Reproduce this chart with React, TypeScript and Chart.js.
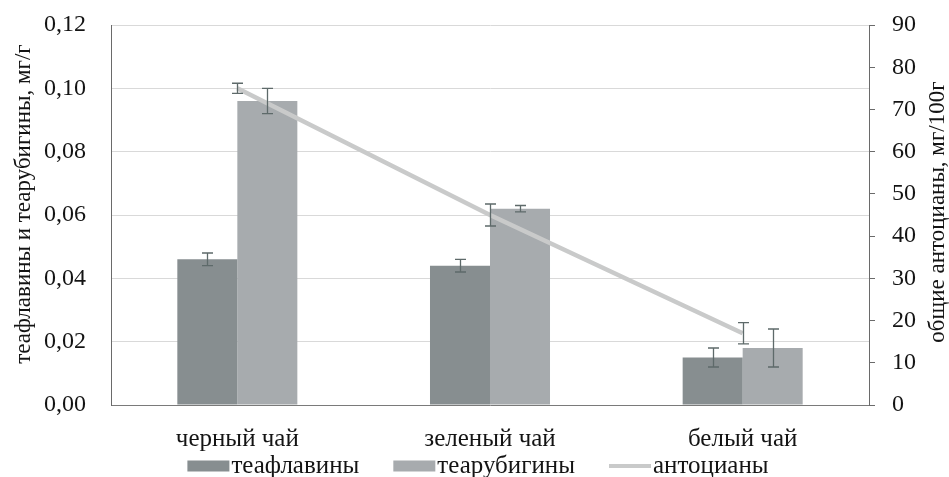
import React, { useEffect, useRef } from "react";
import { Chart, registerables } from "chart.js";

Chart.register(...registerables);

const categories = ["черный чай", "зеленый чай", "белый чай"];
const theaflavins = [0.046, 0.044, 0.015];
const theaflavinsErr = [0.002, 0.002, 0.003];
const thearubigins = [0.096, 0.062, 0.018];
const thearubiginsErr = [0.004, 0.001, 0.006];
const anthocyanins = [75, 45, 17];
const anthocyaninsErr = [1.2, 2.6, 2.5];
const leftTicks = { min: 0, max: 0.12, step: 0.02 };
const rightTicks = { min: 0, max: 90, step: 10 };
const seriesNames = ["теафлавины", "теарубигины", "антоцианы"];
const leftTitle = "теафлавины и теарубигины, мг/г";
const rightTitle = "общие антоцианы, мг/100г";

const FONT = "'Liberation Serif', 'Times New Roman', serif";
const COL_TF = "#878e90";
const COL_TR = "#a7abae";
const COL_AN = "#c9caca";
const COL_ERR = "#5e6a6a";
const TEXT = "#141414";

const errorsList = [theaflavinsErr, thearubiginsErr, anthocyaninsErr];

const errorBarPlugin = {
  id: "errorBars",
  afterDatasetsDraw(chart: any) {
    const ctx = chart.ctx;
    ctx.save();
    ctx.strokeStyle = COL_ERR;
    ctx.lineWidth = 1.3;
    chart.data.datasets.forEach((ds: any, i: number) => {
      const meta = chart.getDatasetMeta(i);
      const scale = chart.scales[ds.yAxisID];
      const errs = errorsList[i];
      meta.data.forEach((el: any, j: number) => {
        const v = ds.data[j];
        const e = errs[j];
        const x = Math.round(el.x) + 0.5;
        const y1 = scale.getPixelForValue(v + e);
        const y2 = scale.getPixelForValue(v - e);
        const cap = 5.5;
        ctx.beginPath();
        ctx.moveTo(x, y1);
        ctx.lineTo(x, y2);
        ctx.moveTo(x - cap, y1);
        ctx.lineTo(x + cap, y1);
        ctx.moveTo(x - cap, y2);
        ctx.lineTo(x + cap, y2);
        ctx.stroke();
      });
    });
    ctx.restore();
  },
};

const decorPlugin = {
  id: "decor",
  afterDraw(chart: any) {
    const ctx = chart.ctx;
    const area = chart.chartArea;
    ctx.save();
    ctx.fillStyle = TEXT;
    // axis titles
    ctx.font = `23px ${FONT}`;
    ctx.textAlign = "center";
    ctx.textBaseline = "middle";
    ctx.save();
    ctx.translate(24, 204);
    ctx.rotate(-Math.PI / 2);
    ctx.fillText(leftTitle, 0, 0);
    ctx.restore();
    ctx.save();
    ctx.translate(938, 212);
    ctx.rotate(-Math.PI / 2);
    ctx.fillText(rightTitle, 0, 0);
    ctx.restore();

    // legend
    ctx.font = `25px ${FONT}`;
    const boxW = 42;
    const boxH = 11;
    const gapText = 2;
    const gapItem = 34;
    const widths = seriesNames.map((n) => boxW + gapText + ctx.measureText(n).width);
    const total = widths.reduce((a, b) => a + b, 0) + gapItem * (widths.length - 1);
    let x = (area.left + area.right) / 2 - total / 2 - 12;
    const cy = 466;
    const colors = [COL_TF, COL_TR, COL_AN];
    seriesNames.forEach((n, i) => {
      if (i < 2) {
        ctx.fillStyle = colors[i];
        ctx.fillRect(x, cy - boxH / 2, boxW, boxH);
      } else {
        ctx.strokeStyle = colors[i];
        ctx.lineWidth = 4;
        ctx.beginPath();
        ctx.moveTo(x, cy);
        ctx.lineTo(x + boxW, cy);
        ctx.stroke();
      }
      ctx.fillStyle = TEXT;
      ctx.textAlign = "left";
      ctx.textBaseline = "middle";
      ctx.fillText(n, x + boxW + gapText, cy);
      x += widths[i] + gapItem;
    });
    ctx.restore();
  },
};

export default function App() {
  const ref = useRef<HTMLCanvasElement | null>(null);

  useEffect(() => {
    document.body.style.margin = "0";
    const canvas = ref.current;
    if (!canvas) return;
    const chart = new Chart(canvas, {
      type: "bar",
      data: {
        labels: categories,
        datasets: [
          {
            type: "bar",
            label: seriesNames[0],
            data: theaflavins,
            backgroundColor: COL_TF,
            yAxisID: "y",
            categoryPercentage: 0.475,
            barPercentage: 1,
            order: 2,
          },
          {
            type: "bar",
            label: seriesNames[1],
            data: thearubigins,
            backgroundColor: COL_TR,
            yAxisID: "y",
            categoryPercentage: 0.475,
            barPercentage: 1,
            order: 2,
          },
          {
            type: "line",
            label: seriesNames[2],
            data: anthocyanins,
            borderColor: COL_AN,
            backgroundColor: COL_AN,
            borderWidth: 4.5,
            pointRadius: 0,
            tension: 0,
            yAxisID: "y1",
            order: 1,
          } as any,
        ],
      },
      options: {
        responsive: false,
        animation: false,
        maintainAspectRatio: false,
        layout: { padding: { top: 25, left: 0, right: 0, bottom: 0 } },
        plugins: {
          legend: { display: false },
          tooltip: { enabled: false },
          title: { display: false },
        },
        scales: {
          x: {
            grid: { display: false, drawTicks: false },
            border: { display: true, color: "#7a7a7a", width: 1 },
            ticks: {
              font: { family: FONT, size: 25 },
              color: TEXT,
              padding: 19,
              maxRotation: 0,
            },
            afterFit: (s: any) => {
              s.height = 72;
              s.paddingLeft = 0;
              s.paddingRight = 0;
            },
          },
          y: {
            position: "left",
            min: leftTicks.min,
            max: leftTicks.max,
            grid: { color: "#d9d9d9", lineWidth: 1, drawTicks: false },
            border: { display: true, color: "#6a6a6a", width: 1 },
            ticks: {
              stepSize: leftTicks.step,
              font: { family: FONT, size: 24 },
              color: TEXT,
              padding: 25,
              callback: (v: any) => Number(v).toFixed(2).replace(".", ","),
            },
            afterFit: (s: any) => {
              s.width = 111;
              s.paddingTop = 0;
              s.paddingBottom = 0;
            },
          },
          y1: {
            position: "right",
            min: rightTicks.min,
            max: rightTicks.max,
            grid: {
              drawOnChartArea: false,
              drawTicks: true,
              tickLength: 6,
              color: "#6a6a6a",
            },
            border: { display: true, color: "#6a6a6a", width: 1 },
            ticks: {
              stepSize: rightTicks.step,
              font: { family: FONT, size: 24 },
              color: TEXT,
              padding: 17,
            },
            afterFit: (s: any) => {
              s.width = 80;
              s.paddingTop = 0;
              s.paddingBottom = 0;
            },
          },
        },
      },
      plugins: [errorBarPlugin, decorPlugin],
    });
    return () => chart.destroy();
  }, []);

  return (
    <div style={{ width: 949, height: 477, background: "#fff" }}>
      <canvas ref={ref} width={949} height={477} style={{ display: "block" }} />
    </div>
  );
}
